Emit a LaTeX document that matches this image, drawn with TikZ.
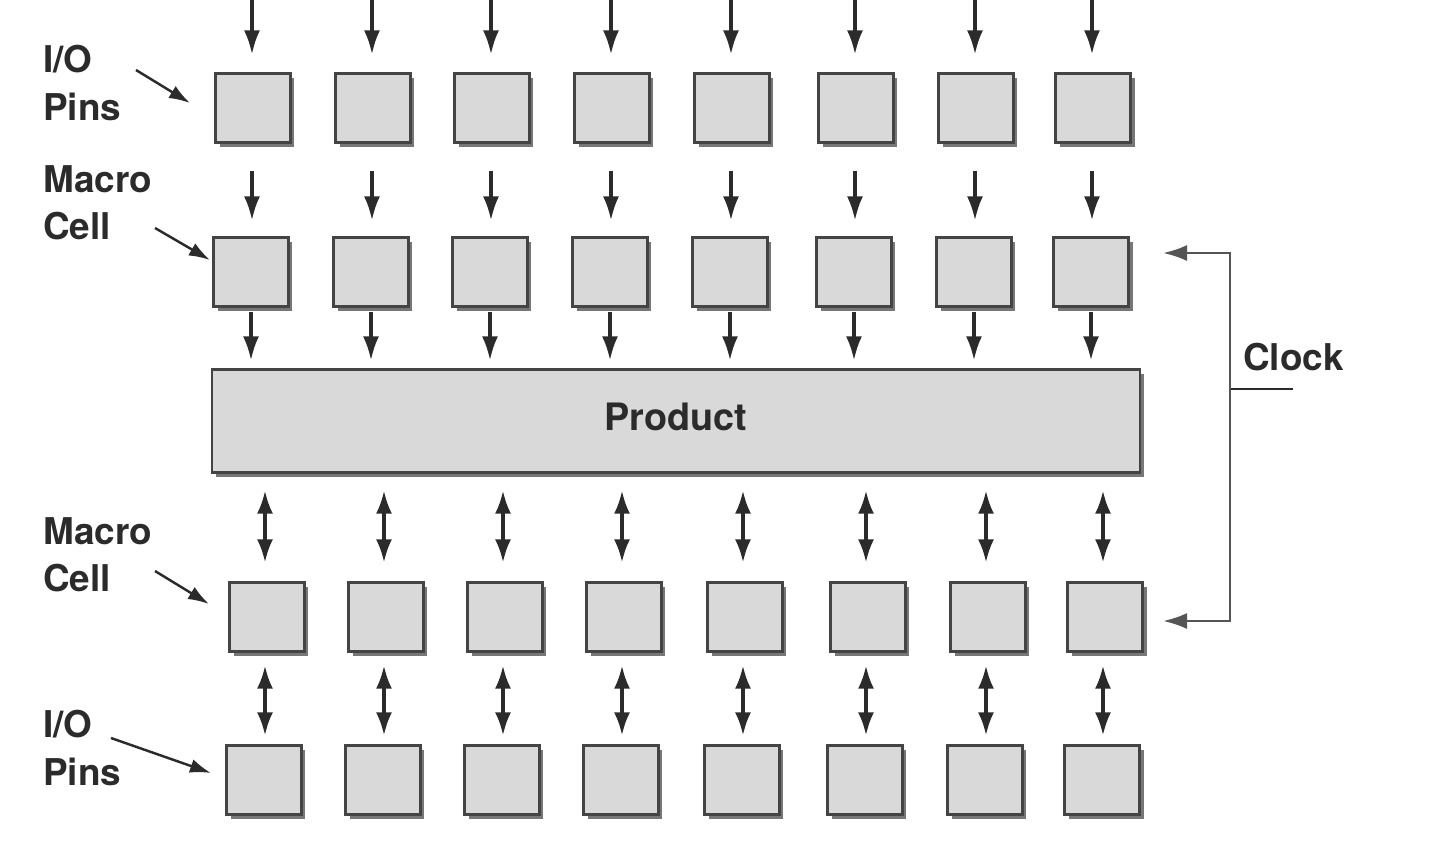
\documentclass[tikz,border=0pt]{standalone}
\usepackage{fontspec}
\setmainfont{TeX Gyre Heros}
\usetikzlibrary{arrows.meta,shadows}
\definecolor{cellfill}{HTML}{D9D9D9}
\definecolor{cellline}{HTML}{444444}
\definecolor{cellshade}{HTML}{777777}
\definecolor{ink}{HTML}{2B2B2B}
\begin{document}
\begin{tikzpicture}[x=0.02cm,y=-0.02cm,
  cell/.style={draw=cellline, fill=cellfill, line width=1.3pt, inner sep=0pt,
    minimum width=1.5cm, minimum height=1.38cm,
    drop shadow={shadow xshift=0.08cm, shadow yshift=-0.08cm, fill=cellshade, opacity=1}},
  wire/.style={draw=ink, line width=1.8pt, -{Latex[length=0.48cm,width=0.32cm]}},
  dwire/.style={wire, {Latex[length=0.46cm,width=0.32cm]}-{Latex[length=0.46cm,width=0.32cm]}},
  pointer/.style={draw=ink, line width=1.4pt, -{Latex[length=0.42cm,width=0.28cm]}},
  lbl/.style={font=\fontsize{21}{27}\selectfont\bfseries, text=ink, align=left, inner sep=0pt, anchor=north west}]
\useasboundingbox (0,0) rectangle (1455,840);

\node[cell, minimum width=18.56cm, minimum height=2.06cm,
  font=\fontsize{21.5}{27}\selectfont\bfseries, text=ink] (prod) at (676,421) {\raisebox{0.18cm}{Product}};

\foreach \xa/\xb [count=\i from 0] in {253/267,373/386,492/505,612/624,732/745,856/868,976/988,1093/1105} {
    \node[cell] (pt\i) at (\xa,108) {};
    \node[cell] (mt\i) at (\xa-2,272) {};
    \node[cell] (mb\i) at (\xb,617) {};
    \node[cell] (pb\i) at (\xb-3,780) {};
    \coordinate (in\i) at (\xa-1,-2);
}
\foreach \i in {0,...,7} {
    \draw[wire, shorten >=0.36cm] (in\i) -- (in\i |- pt\i.north);
    \draw[wire, shorten <=0.54cm, shorten >=0.32cm] (in\i |- pt\i.south) -- (in\i |- mt\i.north);
    \draw[wire, shorten <=0.08cm, shorten >=0.16cm] (mt\i.south) -- (mt\i.south |- prod.north);
    \draw[dwire, shorten <=0.34cm, shorten >=0.38cm] ([xshift=-0.04cm]mb\i.north |- prod.south) -- ([xshift=-0.04cm]mb\i.north);
    \draw[dwire, shorten <=0.26cm, shorten >=0.18cm] ([xshift=-0.04cm]mb\i.south) -- ([xshift=-0.04cm]mb\i.south |- pb\i.north);
}

% clock line
\coordinate (clk) at (1293,389);
\coordinate (bus) at (1230,389);
\coordinate (ckt) at (1163,253);
\coordinate (ckb) at (1163,621);
\draw[ink, line width=0.9pt] (clk) -- (bus);
\draw[wire, draw=ink!80, line width=1.5pt] (bus) |- (ckt);
\draw[wire, draw=ink!80, line width=1.5pt] (bus) |- (ckb);
\node[lbl, anchor=base west] (clock) at (1243,370) {Clock};

% row labels
\node[lbl] (lio1) at (43,45) {I/O\\Pins};
\node[lbl] (lmc1) at (43,165) {Macro\\Cell};
\node[lbl] (lmc2) at (43,517) {Macro\\Cell};
\node[lbl] (lio2) at (43,710) {I/O\\Pins};
\coordinate (a1) at (136,70);   \coordinate (b1) at (190,103);
\coordinate (a2) at (155,228);  \coordinate (b2) at (210,260);
\coordinate (a3) at (155,571);  \coordinate (b3) at (209,604);
\coordinate (a4) at (111,738);  \coordinate (b4) at (211,773);
\foreach \k in {1,...,4} {
    \draw[pointer] (a\k) -- (b\k);
}
\end{tikzpicture}
\end{document}
